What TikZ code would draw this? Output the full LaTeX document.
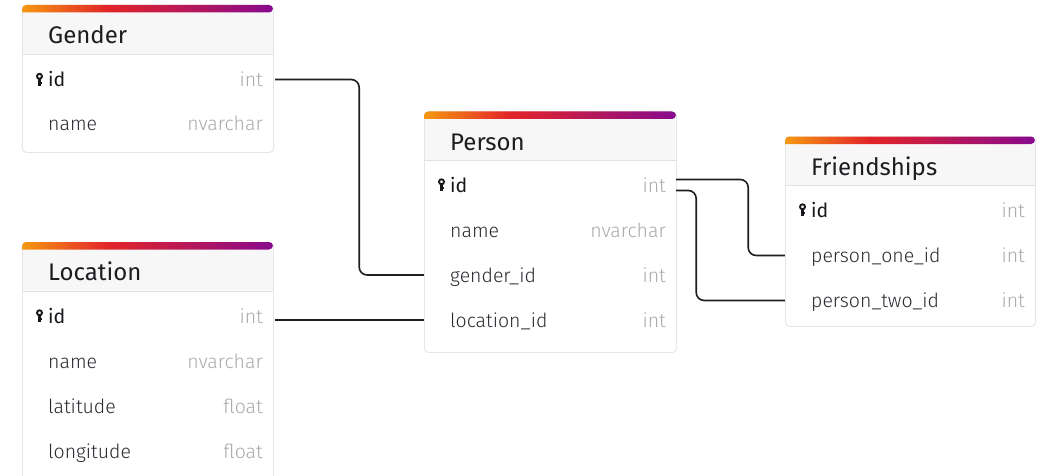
\documentclass[tikz,border=0pt]{standalone}
\usepackage{fontspec}
\setmainfont{Fira Sans}
\newfontfamily\lightfont{Fira Sans Light}
\usetikzlibrary{calc}
\definecolor{orng}{RGB}{245,152,18}
\definecolor{redd}{RGB}{226,36,40}
\definecolor{purp}{RGB}{136,10,142}
\definecolor{hdrgray}{RGB}{247,247,247}
\definecolor{sepgray}{RGB}{226,226,226}
\definecolor{bordergray}{RGB}{230,230,230}
\definecolor{fieldc}{RGB}{45,40,48}
\definecolor{keyfc}{RGB}{25,22,28}
\definecolor{typec}{RGB}{170,170,170}
\definecolor{linec}{RGB}{30,30,30}
\definecolor{titlec}{RGB}{30,28,32}
\pgfdeclarehorizontalshading{hdrgrad}{100bp}{color(0bp)=(orng); color(25bp)=(orng); color(42bp)=(redd); color(75bp)=(purp); color(100bp)=(purp)}
\tikzset{
  tablebox/.style={rectangle, rounded corners=4pt, fill=white, draw=bordergray, line width=0.9pt, inner sep=0pt},
  rowbox/.style={rectangle, minimum height=45pt, inner sep=0pt, draw=none},
  titletext/.style={anchor=base west, inner sep=0pt, text=titlec, font=\fontsize{24}{28}\selectfont},
  fieldtext/.style={anchor=base west, inner sep=0pt, text=fieldc, font=\lightfont\fontsize{19.5}{22}\selectfont},
  keyfield/.style={anchor=base west, inner sep=0pt, text=keyfc, font=\fontsize{19.5}{22}\selectfont},
  typetext/.style={anchor=base east, inner sep=0pt, text=typec, font=\lightfont\fontsize{19.5}{22}\selectfont},
  conn/.style={draw=linec, line width=1.6pt, rounded corners=8pt},
}
% #1 name, #2 left, #3 top, #4 right, #5 bottom, #6 title
\newcommand{\dbtable}[6]{%
  \node[tablebox, minimum width={(#4-#2)*1pt}, minimum height={(#5-#3)*1pt}, anchor=north west] (#1) at (#2,#3) {};
  \fill[hdrgray] (#2+0.5,#3+7.5) rectangle (#4-0.5,#3+49);
  \draw[sepgray, line width=0.8pt] (#2+0.5,#3+49) -- (#4-0.5,#3+49);
  \shade[shading=hdrgrad] (#2,#3+7.5) [rounded corners=4pt] |- ({(#2+#4)/2},#3) -| (#4,#3+7.5) [sharp corners] -- cycle;
  \node[titletext] (#1-title) at (#2+26,#3+38.5) {#6};
}
\newcommand{\keyicon}[2]{%
  \draw[keyfc, line width=1.9pt] (#1+17.5,#2-3.2) circle (2.5pt);
  \fill[keyfc] (#1+16.3,#2-1) rectangle (#1+18.7,#2+6.2);
  \fill[keyfc] (#1+18.7,#2+2.4) rectangle (#1+20.4,#2+4.3);
}
% #1 name, #2 left, #3 right, #4 y, #5 field, #6 type, #7 key
\newcommand{\dbrow}[7]{%
  \node[rowbox, minimum width={(#3-#2)*1pt}] (#1) at ({(#2+#3)/2},#4) {};
  \ifnum#7=1
    \node[keyfield] (#1-f) at (#2+26,#4+7) {#5};
    \keyicon{#2}{#4}
  \else
    \node[fieldtext] (#1-f) at (#2+26,#4+7) {#5};
  \fi
  \node[typetext] (#1-t) at (#3-10,#4+7) {#6};
}
\begin{document}
\begin{tikzpicture}[x=1pt, y=-1pt]
\useasboundingbox (0,0) rectangle (1046,476);
\fill[white] (0,0) rectangle (1046,476);
\clip (0,0) rectangle (1046,476);

% Gender
\dbtable{gender}{22}{5}{273}{152}{Gender}
\dbrow{g-id}{22}{273}{79.5}{id}{int}{1}
\dbrow{g-name}{22}{273}{124}{name}{nvarchar}{0}

% Location
\dbtable{location}{22}{242}{273}{495}{Location}
\dbrow{l-id}{22}{273}{316}{id}{int}{1}
\dbrow{l-name}{22}{273}{361}{name}{nvarchar}{0}
\dbrow{l-lat}{22}{273}{406}{latitude}{float}{0}
\dbrow{l-lon}{22}{273}{451}{longitude}{float}{0}

% Person
\dbtable{person}{424}{111.5}{676}{352}{Person}
\dbrow{p-id}{424}{676}{185}{id}{int}{1}
\dbrow{p-name}{424}{676}{230}{name}{nvarchar}{0}
\dbrow{p-gender}{424}{676}{275}{gender\_id}{int}{0}
\dbrow{p-loc}{424}{676}{320}{location\_id}{int}{0}

% Friendships
\dbtable{friend}{785}{136.5}{1035}{326}{Friendships}
\dbrow{f-id}{785}{1035}{210}{id}{int}{1}
\dbrow{f-p1}{785}{1035}{255.5}{person\_one\_id}{int}{0}
\dbrow{f-p2}{785}{1035}{300.5}{person\_two\_id}{int}{0}

% Connectors
\draw[conn] ([xshift=2pt]g-id.east) -- ++(84,0) |- (p-gender.west);
\draw[conn] ([xshift=2pt]l-id.east |- p-loc.west) -- (p-loc.west);
\draw[conn] ([yshift=5.5pt]p-id.east) -- ++(72,0) |- (f-p1.west);
\draw[conn] ([yshift=-5.5pt]p-id.east) -- ++(20,0) |- (f-p2.west);
\end{tikzpicture}
\end{document}
